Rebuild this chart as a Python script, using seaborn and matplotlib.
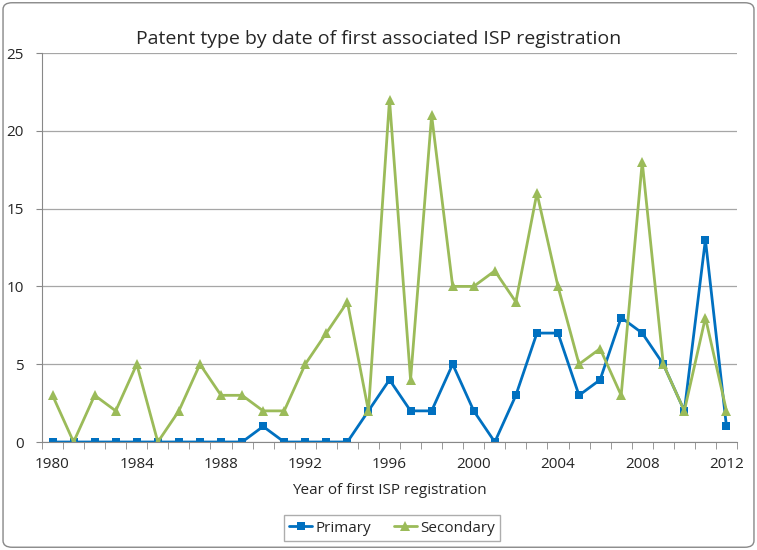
import pandas as pd
import numpy as np
import seaborn as sns
import matplotlib.pyplot as plt
from matplotlib.patches import FancyBboxPatch
from matplotlib.ticker import MultipleLocator

years = list(range(1980, 2013))
primary = [0, 0, 0, 0, 0, 0, 0, 0, 0, 0, 1, 0, 0, 0, 0, 2, 4, 2, 2, 5, 2, 0, 3, 7, 7, 3, 4, 8, 7, 5, 2, 13, 1]
secondary = [3, 0, 3, 2, 5, 0, 2, 5, 3, 3, 2, 2, 5, 7, 9, 2, 22, 4, 21, 10, 10, 11, 9, 16, 10, 5, 6, 3, 18, 5, 2, 8, 2]
tick_years = [1980, 1984, 1988, 1992, 1996, 2000, 2004, 2008, 2012]

df = pd.DataFrame({"year": years, "Primary": primary, "Secondary": secondary})
long_df = df.melt(id_vars="year", var_name="type", value_name="count")

sns.set_style("white")
plt.rcParams['font.family'] = ['Open Sans', 'DejaVu Sans']

W, H = 757, 550
fig = plt.figure(figsize=(W / 100, H / 100), dpi=100)
ax = fig.add_axes([42/W, 108/H, 695/W, 389/H])

palette = {"Primary": "#0070C0", "Secondary": "#9BBB59"}
sns.lineplot(data=long_df, x="year", y="count", hue="type", style="type",
             markers={"Primary": "s", "Secondary": "^"}, dashes=False,
             palette=palette, linewidth=2, markeredgewidth=0, ax=ax)
for ln in ax.lines:
    ln.set_markersize(5.5 if ln.get_marker() == "s" else 7)

# category-style axis: ticks between years, labels under every 4th year
ax.set_xlim(1979.5, 2012.5)
ax.set_ylim(0, 25)
ax.set_xticks(tick_years)
ax.set_xticklabels([str(y) for y in tick_years])
ax.set_xticks(np.arange(1979.5, 2013, 1), minor=True)
ax.yaxis.set_major_locator(MultipleLocator(5))
ax.grid(axis="y", color="#a6a6a6", linewidth=0.9)
ax.set_axisbelow(True)
for s in ["top", "right"]:
    ax.spines[s].set_visible(False)
for s in ["left", "bottom"]:
    ax.spines[s].set_color("#888888")
ax.tick_params(axis="x", which="major", length=0, labelsize=11, pad=11)
ax.tick_params(axis="x", which="minor", direction="out", length=5, color="#888888", bottom=True)
ax.tick_params(axis="y", direction="out", length=4, color="#888888", left=True,
               labelsize=11, pad=9)
ax.set_xlabel("Year of first ISP registration", fontsize=11, labelpad=8)
ax.set_ylabel("")
fig.suptitle("Patent type by date of first associated ISP registration",
             fontsize=14, x=0.5, y=1 - 44/H, va="baseline")

leg = ax.legend(loc="center", bbox_to_anchor=(392/W, 1 - 528/H),
                bbox_transform=fig.transFigure, ncol=2, frameon=True,
                fancybox=False, fontsize=11, handlelength=1.5, handletextpad=0.2,
                columnspacing=1.5, borderpad=0.35)
leg.get_frame().set_edgecolor("#999999")
leg.get_frame().set_linewidth(1)
leg.set_title(None)

border = FancyBboxPatch((0.004, 0.005), 0.992, 0.99, boxstyle="round,pad=0,rounding_size=0.012",
                        transform=fig.transFigure, fill=False, edgecolor="#888888", linewidth=1)
fig.patches.append(border)

fig.savefig("out.png", dpi=100)
